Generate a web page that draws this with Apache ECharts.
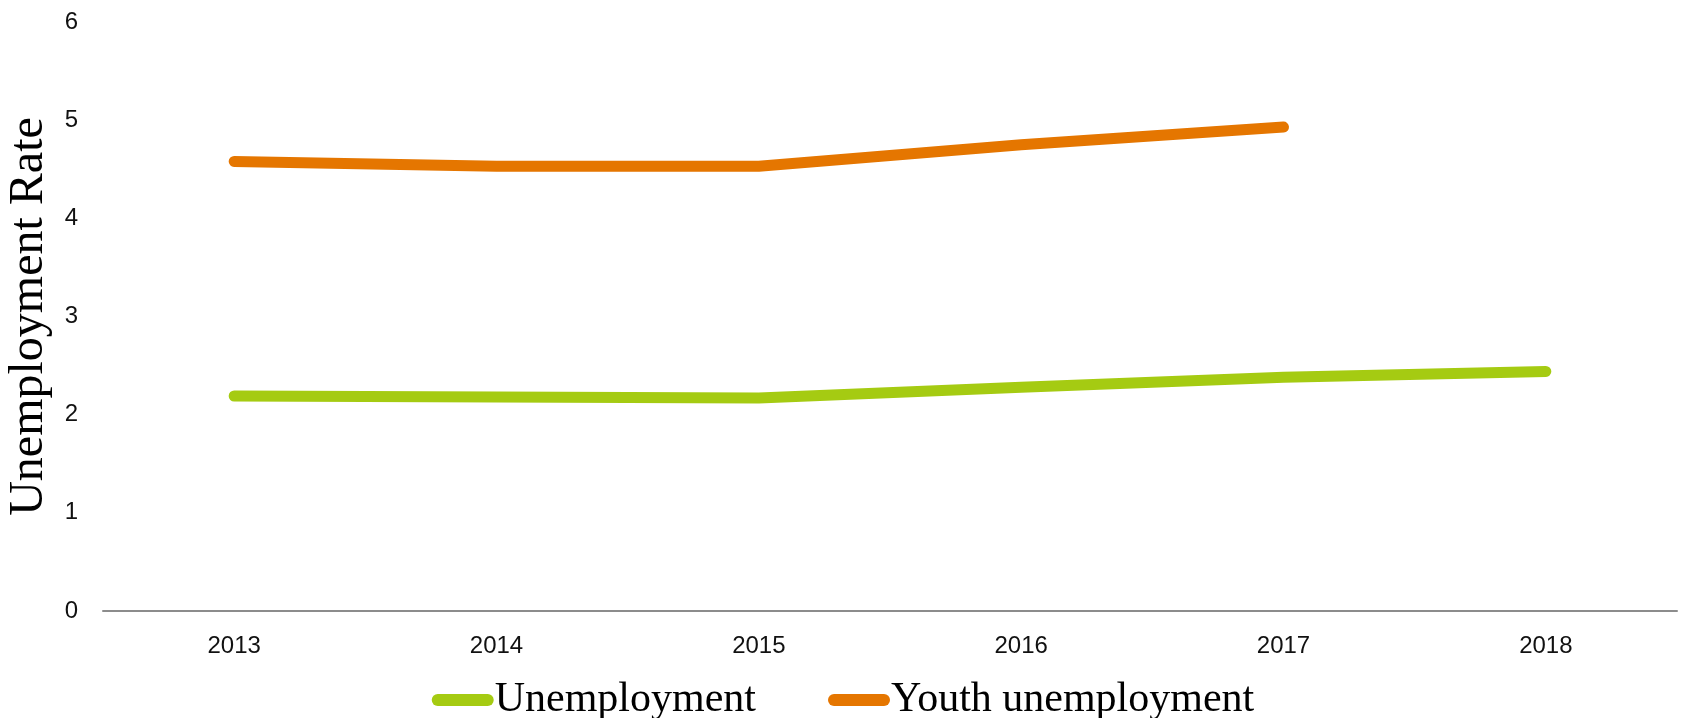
<!DOCTYPE html>
<html>
<head>
<meta charset="utf-8">
<script src="https://cdn.jsdelivr.net/npm/echarts@6/dist/echarts.min.js"></script>
<style>
    html, body {margin: 0; padding: 0; background: #fff;}
    #main {width: 1686px; height: 718px;}
</style>
</head>
<body>
<div id="main"></div>
<script>
// data
const years = ['2013', '2014', '2015', '2016', '2017', '2018'];
const unemployment = [2.19, 2.18, 2.17, 2.28, 2.38, 2.44];
const youthUnemployment = [4.58, 4.53, 4.53, 4.75, 4.93, null];
const yTicks = [0, 1, 2, 3, 4, 5, 6];

const colors = ['#a5cb12', '#e57600'];
const legendIcon = 'path://M6,0 L56,0 A6,6 0 0 1 56,12 L6,12 A6,6 0 0 1 6,0 Z';

const myChart = echarts.init(document.getElementById('main'));
myChart.setOption({
    animation: false,
    color: colors,
    grid: {
        left: 103,
        right: 9,
        top: 22,
        bottom: 107,
        outerBoundsMode: 'none'
    },
    legend: {
        top: 674,
        left: 'center',
        itemWidth: 62,
        itemHeight: 12,
        itemGap: 72,
        icon: legendIcon,
        textStyle: {
            fontFamily: 'Liberation Serif',
            fontSize: 42,
            color: '#000',
            padding: [0, 0, 0, -4]
        },
        data: ['Unemployment', 'Youth unemployment']
    },
    xAxis: {
        type: 'category',
        data: years,
        axisLine: {lineStyle: {color: '#8c8c8c', width: 2}},
        axisTick: {show: false},
        axisLabel: {
            margin: 23,
            fontFamily: 'Liberation Sans',
            fontSize: 24,
            color: '#111'
        }
    },
    yAxis: {
        type: 'value',
        min: yTicks[0],
        max: yTicks[yTicks.length - 1],
        interval: 1,
        name: 'Unemployment Rate',
        nameLocation: 'middle',
        nameRotate: 90,
        nameGap: 44,
        nameTextStyle: {
            fontFamily: 'Liberation Serif',
            fontSize: 48,
            color: '#000'
        },
        axisLine: {show: false},
        axisTick: {show: false},
        splitLine: {show: false},
        axisLabel: {
            margin: 25,
            fontFamily: 'Liberation Sans',
            fontSize: 24,
            color: '#111'
        }
    },
    series: [
        {
            name: 'Unemployment',
            type: 'line',
            data: unemployment,
            showSymbol: false,
            lineStyle: {width: 11, cap: 'round', join: 'round'}
        }, {
            name: 'Youth unemployment',
            type: 'line',
            data: youthUnemployment,
            showSymbol: false,
            lineStyle: {width: 11, cap: 'round', join: 'round'}
        }
    ]
});
</script>
</body>
</html>
